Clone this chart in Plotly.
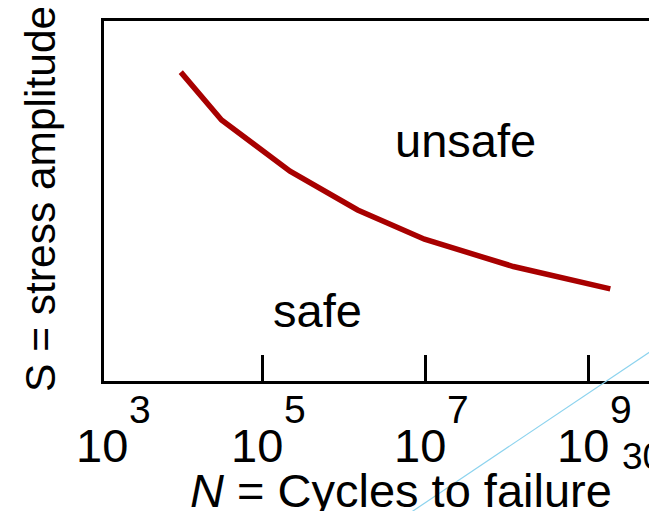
import plotly.graph_objects as go

# ---- data ----
cycles_log10 = [4.0, 4.5, 5.34, 6.17, 6.99, 8.08, 9.27]          # log10 N
stress_amp = [85.8, 72.5, 58.3, 47.5, 39.4, 31.8, 25.6]            # relative S
tick_exponents = [3, 5, 7, 9]
tick_base = "10"
region_labels = ["unsafe", "safe"]
region_x = [7.49, 5.68]          # log10 N
region_y = [66.7, 19.5]
x_title = "<i>N</i> = Cycles to failure"
y_title = "S = stress amplitude"
corner_text = "30"

FONT = "Liberation Sans, Arial, sans-serif"
XLO, XHI = 3.058, 9.843
OFF = 8                      # page body margin
W, H = 649, 511
L, R, T, B = 104 - OFF, 0, 21 - OFF, 0
PW = 553
PH = 360
B = H - T - PH

cycles = [10 ** v for v in cycles_log10]

fig = go.Figure()
fig.add_trace(go.Scatter(
    x=cycles, y=stress_amp, mode="lines",
    line=dict(color="#A80000", width=5.5),
    hoverinfo="skip", showlegend=False,
))

fig.update_layout(
    width=W, height=H,
    margin=dict(l=L, r=R, t=T, b=B, pad=0),
    paper_bgcolor="white", plot_bgcolor="white",
    font=dict(family=FONT, color="black"),
    showlegend=False,
)
fig.update_xaxes(
    type="log", range=[XLO, XHI],
    showline=True, linecolor="black", linewidth=3, mirror=True,
    showgrid=False, zeroline=False,
    tickvals=[10 ** e for e in tick_exponents],
    ticks="inside", ticklen=26, tickwidth=2.5, tickcolor="black",
    showticklabels=False,
)
fig.update_yaxes(
    range=[0, 100],
    showline=True, linecolor="black", linewidth=3, mirror=False,
    showgrid=False, zeroline=False, ticks="", showticklabels=False,
)

# tick labels: "10" with a raised exponent
nudge = {3: 8}
for e in tick_exponents:
    xf = (e - XLO) / (XHI - XLO)
    dx = nudge.get(e, 0)
    fig.add_annotation(x=xf, xref="paper", y=0, yref="paper",
                       text=tick_base, showarrow=False,
                       xanchor="center", yanchor="top",
                       xshift=-5 + dx, yshift=-35.5,
                       font=dict(size=47, family=FONT, color="black"))
    fig.add_annotation(x=xf, xref="paper", y=0, yref="paper",
                       text=str(e), showarrow=False,
                       xanchor="center", yanchor="top",
                       xshift=33 + dx, yshift=-4.7,
                       font=dict(size=39, family=FONT, color="black"))

# region labels
for txt, xv, yv in zip(region_labels, region_x, region_y):
    fig.add_annotation(x=xv, y=yv, xref="x", yref="y", text=txt,
                       showarrow=False, xanchor="center", yanchor="middle",
                       font=dict(size=47, family=FONT, color="black"))

# axis titles
fig.add_annotation(x=(401 - 104) / PW, xref="paper", y=0, yref="paper",
                   text=x_title, showarrow=False,
                   xanchor="center", yanchor="top", yshift=-80.5,
                   font=dict(size=47, family=FONT, color="black"))
fig.add_annotation(x=0, xref="paper", y=(381 - 199) / PH, yref="paper",
                   text=y_title, showarrow=False, textangle=-90,
                   xanchor="center", yanchor="middle", xshift=-64,
                   font=dict(size=42.5, family=FONT, color="black"))

# stray slide elements
fig.add_annotation(x=(620 - 104) / PW, xref="paper", y=0, yref="paper",
                   text=corner_text, showarrow=False,
                   xanchor="left", yanchor="top", yshift=-(433.5 - 381),
                   font=dict(size=37, family=FONT, color="black"))
fig.add_shape(type="line", xref="paper", yref="paper",
              x0=(400 - 104) / PW, y0=(381 - 519.7) / PH,
              x1=(670 - 104) / PW, y1=(381 - 338.3) / PH,
              line=dict(color="#8CD3EE", width=1.2))

fig.write_html("out.html")
